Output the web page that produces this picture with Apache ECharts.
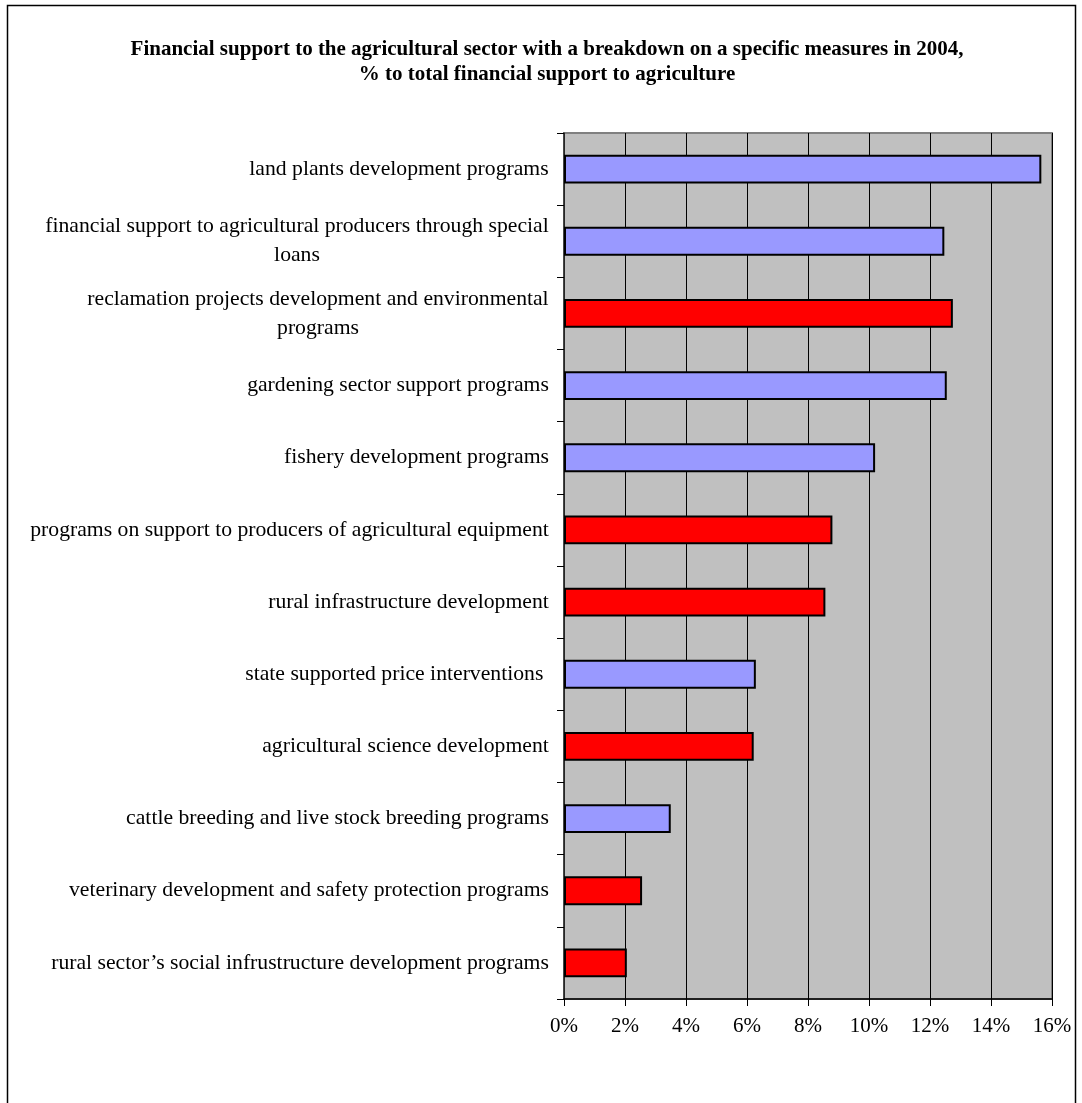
<!DOCTYPE html>
<html>
<head>
<meta charset="utf-8">
<script src="https://cdn.jsdelivr.net/npm/echarts@6/dist/echarts.min.js"></script>
<style>
html,body{margin:0;padding:0;background:#fff;}
#chart{width:1082px;height:1103px;}
</style>
</head>
<body>
<div id="chart"></div>
<script>
const categories = [
  "land plants development programs",
  "financial support to agricultural producers through special loans",
  "reclamation projects development and environmental programs",
  "gardening sector support programs",
  "fishery development programs",
  "programs on support to producers of agricultural equipment",
  "rural infrastructure development",
  "state supported price interventions ",
  "agricultural science development",
  "cattle breeding and live stock breeding programs",
  "veterinary development and safety protection programs",
  "rural sector\u2019s social infrustructure development programs"
];
const values = [15.65, 12.47, 12.75, 12.55, 10.2, 8.8, 8.57, 6.29, 6.22, 3.5, 2.56, 2.06];
const groups = ["blue","blue","red","blue","blue","red","red","blue","red","blue","red","red"];
const groupColors = { blue: "#9999FF", red: "#FF0000" };
const xTicks = [0, 2, 4, 6, 8, 10, 12, 14, 16];

const font = "'Liberation Serif', 'Times New Roman', serif";
const labelSize = 21.7;
const wrapWidth = 530;

const measureCtx = document.createElement('canvas').getContext('2d');
measureCtx.font = labelSize + "px " + font;
function wrapLines(text) {
  const words = text.split(' ');
  const lines = [];
  let cur = '';
  for (const w of words) {
    const trial = cur ? cur + ' ' + w : w;
    if (cur && measureCtx.measureText(trial).width > wrapWidth) {
      lines.push(cur);
      cur = w;
    } else {
      cur = trial;
    }
  }
  lines.push(cur);
  return lines;
}
// rich styles: each label's lines centred within the widest line, block right-aligned
const rich = {};
const wrapped = categories.map((c, i) => {
  const lines = wrapLines(c);
  const w = Math.max(...lines.map(l => measureCtx.measureText(l).width));
  rich['l' + i] = { width: Math.ceil(w), align: 'center', fontFamily: font, fontSize: labelSize, lineHeight: 29, color: '#000' };
  return lines;
});

const chart = echarts.init(document.getElementById('chart'));
chart.setOption({
  animation: false,
  backgroundColor: '#fff',
  title: {
    text: 'Financial support to the agricultural sector with a breakdown on a specific measures in 2004,\n% to total financial support to agriculture',
    left: 542,
    top: 32,
    textAlign: 'center',
    textStyle: { fontFamily: font, fontWeight: 'bold', fontSize: 21, lineHeight: 25, color: '#000' }
  },
  graphic: [{
    type: 'rect',
    shape: { x: 7.5, y: 5.5, width: 1068, height: 1200 },
    style: { fill: 'none', stroke: '#000', lineWidth: 1.5 },
    silent: true, z: 100
  }],
  grid: {
    left: 564, right: 30, top: 133, bottom: 104,
    show: true, backgroundColor: '#C0C0C0', borderColor: '#808080', borderWidth: 2
  },
  xAxis: {
    type: 'value', min: xTicks[0], max: xTicks[xTicks.length - 1], interval: 2,
    axisLine: { show: true, onZero: false, lineStyle: { color: '#000', width: 1.5 } },
    axisTick: { show: true, length: 7, lineStyle: { color: '#000' } },
    axisLabel: { formatter: v => v + '%', fontFamily: font, fontSize: 21, color: '#000', margin: 17 },
    splitLine: { show: true, lineStyle: { color: '#000', width: 1 } }
  },
  yAxis: {
    type: 'category', data: categories, inverse: true,
    axisLine: { show: true, lineStyle: { color: '#333', width: 1.5 } },
    axisTick: { show: true, length: 7, lineStyle: { color: '#000' } },
    axisLabel: {
      formatter: (v, idx) => wrapped[idx].map(l => '{l' + idx + '|' + l + '}').join('\n'),
      rich: rich,
      fontFamily: font, fontSize: labelSize, color: '#000', margin: 15, lineHeight: 29,
      align: 'right'
    },
    splitLine: { show: false }
  },
  series: [{
    type: 'bar',
    data: values.map((v, i) => ({ value: v, itemStyle: { color: groupColors[groups[i]] } })),
    barCategoryGap: '60%',
    itemStyle: { borderColor: '#000', borderWidth: 2 }
  }]
});
</script>
</body>
</html>
